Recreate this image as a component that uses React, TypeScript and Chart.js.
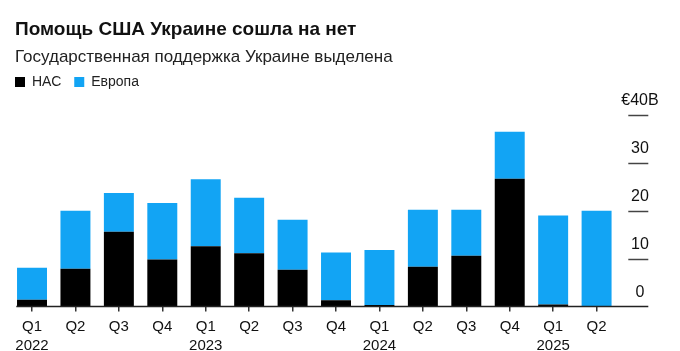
import React, { useEffect, useRef } from "react";
import { Chart, registerables } from "chart.js";

Chart.register(...registerables);

const TITLE = "Помощь США Украине сошла на нет";
const SUBTITLE = "Государственная поддержка Украине выделена";

const quarterLabels: (string | string[])[] = [
  ["Q1", "2022"], "Q2", "Q3", "Q4",
  ["Q1", "2023"], "Q2", "Q3", "Q4",
  ["Q1", "2024"], "Q2", "Q3", "Q4",
  ["Q1", "2025"], "Q2",
];

const usaValues = [1.4, 7.9, 15.6, 9.8, 12.6, 11.1, 7.7, 1.3, 0.3, 8.3, 10.6, 26.7, 0.4, 0];
const europeValues = [6.7, 12.1, 8.1, 11.8, 14.0, 11.6, 10.4, 10.0, 11.5, 11.9, 9.6, 9.8, 18.6, 20.0];

const yTickValues = [0, 10, 20, 30, 40];
const yTopLabel = "€40B";

const FONT = "'Liberation Sans', Arial, Helvetica, sans-serif";
const BLUE = "#12a4f4";
const BLACK = "#000000";

const headerPlugin = {
  id: "header",
  afterDraw(chart: any) {
    const ctx = chart.ctx as CanvasRenderingContext2D;
    ctx.save();
    ctx.textBaseline = "middle";
    ctx.textAlign = "left";
    ctx.fillStyle = "#111";
    ctx.font = `bold 19px ${FONT}`;
    ctx.fillText(TITLE, 15, 30);
    ctx.fillStyle = "#222";
    ctx.font = `17px ${FONT}`;
    ctx.fillText(SUBTITLE, 15, 57);
    // legend
    ctx.font = `14px ${FONT}`;
    let x = 15;
    const yMid = 82;
    chart.data.datasets.forEach((ds: any) => {
      ctx.fillStyle = ds.backgroundColor;
      ctx.fillRect(x, yMid - 5, 10, 10);
      ctx.fillStyle = "#222";
      ctx.fillText(ds.label, x + 17, yMid);
      x += 17 + ctx.measureText(ds.label).width + 13;
    });
    ctx.restore();
  },
};

const axisPlugin = {
  id: "axisDecor",
  afterDraw(chart: any) {
    const ctx = chart.ctx as CanvasRenderingContext2D;
    const area = chart.chartArea;
    const yScale = chart.scales.y;
    ctx.save();
    ctx.strokeStyle = "#444";
    ctx.lineWidth = 1.5;
    yScale.ticks.forEach((t: any) => {
      if (t.value === 0) return;
      const py = Math.round(yScale.getPixelForValue(t.value)) + 0.5;
      ctx.beginPath();
      ctx.moveTo(area.right + 10, py);
      ctx.lineTo(area.right + 30, py);
      ctx.stroke();
    });
    const by = yScale.getPixelForValue(0);
    ctx.strokeStyle = "#222";
    ctx.lineWidth = 1.5;
    ctx.beginPath();
    ctx.moveTo(area.left + 6, by);
    ctx.lineTo(area.right + 30, by);
    ctx.stroke();
    ctx.restore();
  },
};

export default function App() {
  const ref = useRef<HTMLCanvasElement | null>(null);
  useEffect(() => {
    if (!ref.current) return;
    const chart = new Chart(ref.current, {
      type: "bar",
      data: {
        labels: quarterLabels,
        datasets: [
          { label: "НАС", data: usaValues, backgroundColor: BLACK, borderWidth: 0 },
          { label: "Европа", data: europeValues, backgroundColor: BLUE, borderWidth: 0 },
        ],
      },
      options: {
        animation: false,
        responsive: false,
        layout: { padding: { top: 115, left: 10.3, right: 0, bottom: 0 } },
        plugins: {
          legend: { display: false },
          title: { display: false },
          tooltip: { enabled: false },
        },
        datasets: { bar: { categoryPercentage: 0.69, barPercentage: 1 } },
        scales: {
          x: {
            stacked: true,
            afterFit: (s: any) => { s.height = 44.5; },
            grid: {
              display: true,
              drawOnChartArea: false,
              drawTicks: true,
              tickLength: 5,
              offset: false,
              color: "#333",
              lineWidth: 1.5,
            },
            border: { display: false },
            ticks: {
              padding: 6,
              color: "#111",
              font: { family: FONT, size: 15, lineHeight: 1.27 },
              maxRotation: 0,
              autoSkip: false,
            },
          },
          y: {
            stacked: true,
            position: "right",
            min: 0,
            max: 40,
            afterFit: (s: any) => { s.width = 61.7; },
            afterBuildTicks: (s: any) => { s.ticks = yTickValues.map((v) => ({ value: v })); },
            grid: { display: false, drawTicks: false },
            border: { display: false },
            ticks: {
              padding: 3,
              crossAlign: "center",
              labelOffset: -14,
              color: "#111",
              font: { family: FONT, size: 16 },
              callback: (v: any) => (v === 40 ? yTopLabel : String(v)),
            },
          },
        },
      },
      plugins: [headerPlugin, axisPlugin],
    } as any);
    return () => chart.destroy();
  }, []);
  return (
    <div style={{ position: "absolute", left: 0, top: 0, width: 680, height: 351, background: "#fff" }}>
      <canvas ref={ref} width={680} height={351} />
    </div>
  );
}
